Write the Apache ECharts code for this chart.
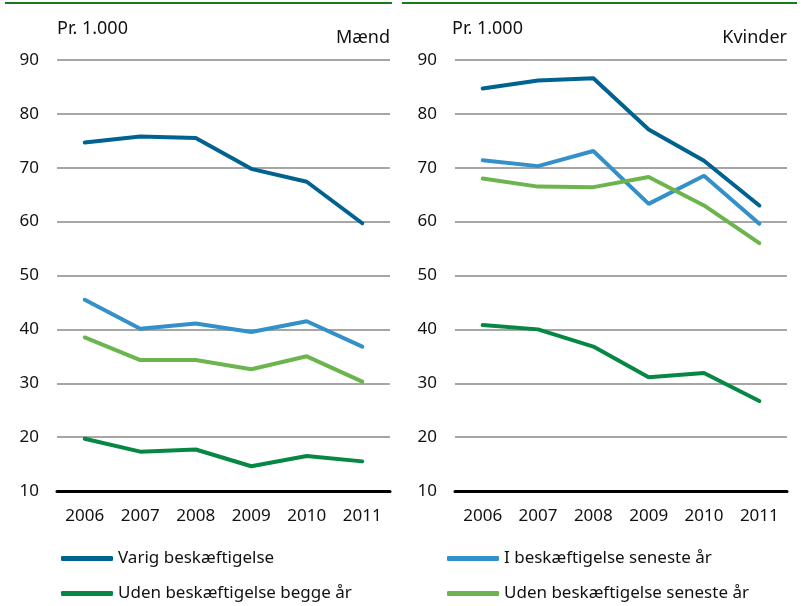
<!DOCTYPE html>
<html>
<head>
<meta charset="utf-8">
<title>Beskæftigelse</title>
<script src="https://cdn.jsdelivr.net/npm/echarts@6/dist/echarts.min.js"></script>
<style>
html, body { margin: 0; padding: 0; background: #fff; }
#main { width: 805px; height: 606px; }
</style>
</head>
<body>
<div id="main"></div>
<script>
var years = ['2006', '2007', '2008', '2009', '2010', '2011'];
var names = ['Varig beskæftigelse', 'I beskæftigelse seneste år', 'Uden beskæftigelse seneste år', 'Uden beskæftigelse begge år'];
var colors = ['#00628f', '#3490c8', '#6cb54e', '#078744'];

// Mænd (left panel)
var maendVarig = [74.7, 75.8, 75.5, 69.8, 67.4, 59.7];
var maendI = [45.5, 40.1, 41.1, 39.5, 41.5, 36.8];
var maendUdenSeneste = [38.5, 34.3, 34.3, 32.6, 35.0, 30.3];
var maendUdenBegge = [19.7, 17.3, 17.7, 14.6, 16.5, 15.5];

// Kvinder (right panel)
var kvinderVarig = [84.7, 86.2, 86.6, 77.1, 71.3, 63.0];
var kvinderI = [71.4, 70.3, 73.1, 63.3, 68.5, 59.6];
var kvinderUdenSeneste = [68.0, 66.5, 66.4, 68.3, 63.0, 56.0];
var kvinderUdenBegge = [40.8, 40.0, 36.8, 31.1, 31.9, 26.7];

var font = 'Noto Sans';
var fs = 17;
var chart = echarts.init(document.getElementById('main'));

function xAx(i) {
    return {
        type: 'category', gridIndex: i, data: years,
        axisLine: { show: true, lineStyle: { color: '#000', width: 3 } },
        axisTick: { show: false },
        axisLabel: { color: '#111', fontFamily: font, fontSize: fs, margin: 17 }
    };
}
function yAx(i) {
    return {
        type: 'value', gridIndex: i, min: 10, max: 90, interval: 10,
        axisLine: { show: false }, axisTick: { show: false },
        axisLabel: { color: '#111', fontFamily: font, fontSize: fs, margin: 18 },
        splitLine: { lineStyle: { color: '#a6a6a6', width: 2 } }
    };
}
function line(name, data, idx, color) {
    return {
        name: name, type: 'line', xAxisIndex: idx, yAxisIndex: idx,
        data: data, symbol: 'none', color: color,
        lineStyle: { width: 4, color: color, cap: 'round' }
    };
}
function leg(name, x, y) {
    return {
        left: x, top: y, data: [name],
        icon: 'roundRect', itemWidth: 52, itemHeight: 5, itemGap: 0,
        textStyle: { fontFamily: font, fontSize: fs, color: '#111' }
    };
}

chart.setOption({
    animation: false,
    grid: [
        { left: 57, right: 415, top: 60, bottom: 115 },
        { left: 455, right: 18, top: 60, bottom: 115 }
    ],
    xAxis: [xAx(0), xAx(1)],
    yAxis: [yAx(0), yAx(1)],
    legend: [
        leg(names[0], 56, 545),
        leg(names[3], 56, 580),
        leg(names[1], 442, 545),
        leg(names[2], 442, 580)
    ],
    graphic: [
        { type: 'line', shape: { x1: 5, y1: 3, x2: 392, y2: 3 }, style: { stroke: '#1a7a1a', lineWidth: 2 } },
        { type: 'line', shape: { x1: 402, y1: 3, x2: 797, y2: 3 }, style: { stroke: '#1a7a1a', lineWidth: 2 } },
        { type: 'text', left: 57, top: 20, style: { text: 'Pr. 1.000', font: '18px "' + font + '"', fill: '#111' } },
        { type: 'text', right: 415, top: 29, style: { text: 'Mænd', font: '18px "' + font + '"', fill: '#111' } },
        { type: 'text', left: 452, top: 20, style: { text: 'Pr. 1.000', font: '18px "' + font + '"', fill: '#111' } },
        { type: 'text', right: 18, top: 29, style: { text: 'Kvinder', font: '18px "' + font + '"', fill: '#111' } }
    ],
    series: [
        line(names[0], maendVarig, 0, colors[0]),
        line(names[1], maendI, 0, colors[1]),
        line(names[2], maendUdenSeneste, 0, colors[2]),
        line(names[3], maendUdenBegge, 0, colors[3]),
        line(names[0], kvinderVarig, 1, colors[0]),
        line(names[1], kvinderI, 1, colors[1]),
        line(names[2], kvinderUdenSeneste, 1, colors[2]),
        line(names[3], kvinderUdenBegge, 1, colors[3])
    ]
});
</script>
</body>
</html>
